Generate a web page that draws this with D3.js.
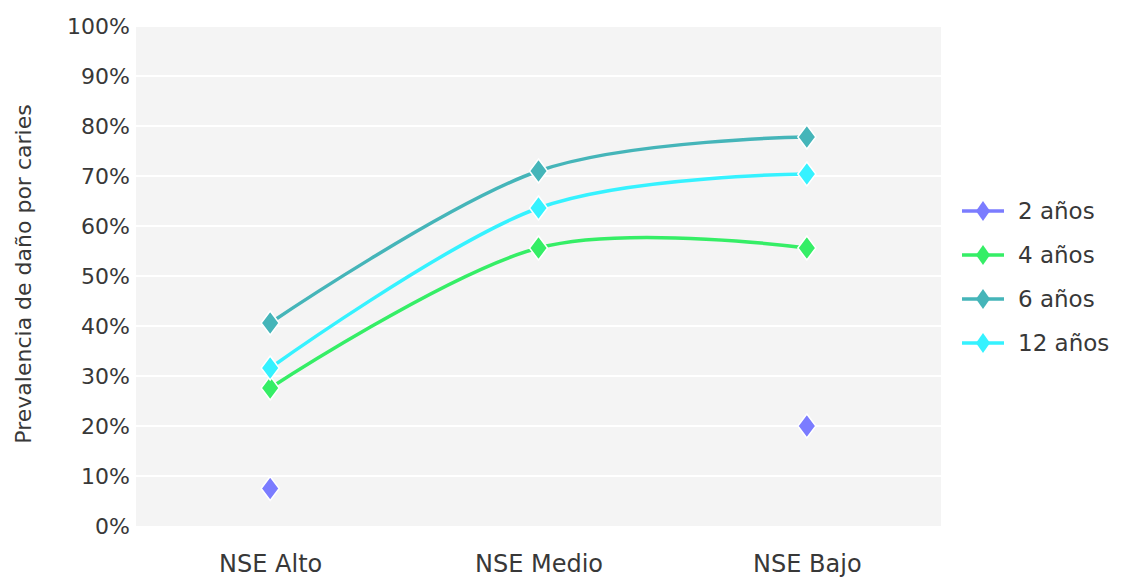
<!DOCTYPE html>
<html>
<head>
<meta charset="utf-8">
<script src="https://cdn.jsdelivr.net/npm/d3@7"></script>
<style>
  body { margin: 0; background: #fff; }
  text { font-family: "DejaVu Sans", "Open Sans", sans-serif; fill: #383838; }
</style>
</head>
<body>
<div id="chart"></div>
<script>
// data
var categories = ["NSE Alto", "NSE Medio", "NSE Bajo"];
var seriesNames = ["2 años", "4 años", "6 años", "12 años"];
var seriesColors = ["#7b7cff", "#35ee66", "#45b5b9", "#35f2ff"];
var values2 = [7.5, null, 20];
var values4 = [27.6, 55.6, 55.6];
var values6 = [40.6, 71.0, 77.8];
var values12 = [31.6, 63.6, 70.4];
var yTicks = [0, 10, 20, 30, 40, 50, 60, 70, 80, 90, 100];

var series = [values2, values4, values6, values12].map(function (v, i) {
  return { name: seriesNames[i], color: seriesColors[i], values: v };
});

var svgWidth = 1124, svgHeight = 579;
var margin = { top: 26, right: 183, bottom: 53, left: 136 };
var width = svgWidth - margin.left - margin.right,
    height = svgHeight - margin.top - margin.bottom;

var svg = d3.select("#chart").append("svg")
  .attr("width", svgWidth)
  .attr("height", svgHeight);

var g = svg.append("g")
  .attr("transform", "translate(" + margin.left + "," + margin.top + ")");

var x = d3.scalePoint().domain(categories).range([0, width]).padding(0.5);
var y = d3.scaleLinear().domain([0, 100]).range([height, 0]);

// plot background
g.append("rect")
  .attr("width", width)
  .attr("height", height)
  .attr("fill", "#f4f4f4");

// gridlines
g.selectAll(".grid")
  .data(yTicks.slice(1))
  .enter().append("line")
  .attr("x1", 0).attr("x2", width)
  .attr("y1", function (d) { return y(d); })
  .attr("y2", function (d) { return y(d); })
  .attr("stroke", "#fff")
  .attr("stroke-width", 2);

// y axis
var yAxis = d3.axisLeft(y).tickValues(yTicks).tickSize(0).tickPadding(6)
  .tickFormat(function (d) { return d + "%"; });
var yg = g.append("g").call(yAxis);
yg.select(".domain").remove();
yg.selectAll("text").style("font-size", "22px").attr("fill", "#383838");

// x axis
var xAxis = d3.axisBottom(x).tickSize(0).tickPadding(29);
var xg = g.append("g").attr("transform", "translate(0," + height + ")").call(xAxis);
xg.select(".domain").remove();
xg.selectAll("text").style("font-size", "24px").attr("fill", "#383838");

// y axis title
svg.append("text")
  .attr("transform", "translate(31," + (margin.top + height / 2 - 2) + ") rotate(-90)")
  .attr("text-anchor", "middle")
  .style("font-size", "22px")
  .text("Prevalencia de daño por caries");

var line = d3.line()
  .defined(function (d) { return d.v != null; })
  .x(function (d) { return x(d.c); })
  .y(function (d) { return y(d.v); })
  .curve(d3.curveCardinal.tension(0));

var diamond = function (cx, cy, w, h) {
  return "M" + cx + "," + (cy - h) + "L" + (cx + w) + "," + cy + "L" + cx + "," + (cy + h) + "L" + (cx - w) + "," + cy + "Z";
};

series.forEach(function (s) {
  var pts = s.values.map(function (v, i) { return { c: categories[i], v: v }; });
  var full = pts.every(function (p) { return p.v != null; });
  if (full) {
    g.append("path")
      .datum(pts)
      .attr("fill", "none")
      .attr("stroke", s.color)
      .attr("stroke-width", 3.5)
      .attr("d", line);
  }
  g.selectAll(null)
    .data(pts.filter(function (p) { return p.v != null; }))
    .enter().append("path")
    .attr("d", function (p) { return diamond(x(p.c), y(p.v), 9, 12); })
    .attr("fill", s.color)
    .attr("stroke", "#fff")
    .attr("stroke-width", 1.5);
});

// legend
var legend = svg.append("g").attr("transform", "translate(962,211)");
series.forEach(function (s, i) {
  var row = legend.append("g").attr("transform", "translate(0," + (i * 44) + ")");
  row.append("line")
    .attr("x1", 0).attr("x2", 42)
    .attr("stroke", s.color).attr("stroke-width", 3.5);
  row.append("path")
    .attr("d", diamond(21, 0, 7, 10))
    .attr("fill", s.color);
  row.append("text")
    .attr("x", 56).attr("dy", "0.35em")
    .style("font-size", "23px")
    .text(s.name);
});
</script>
</body>
</html>
